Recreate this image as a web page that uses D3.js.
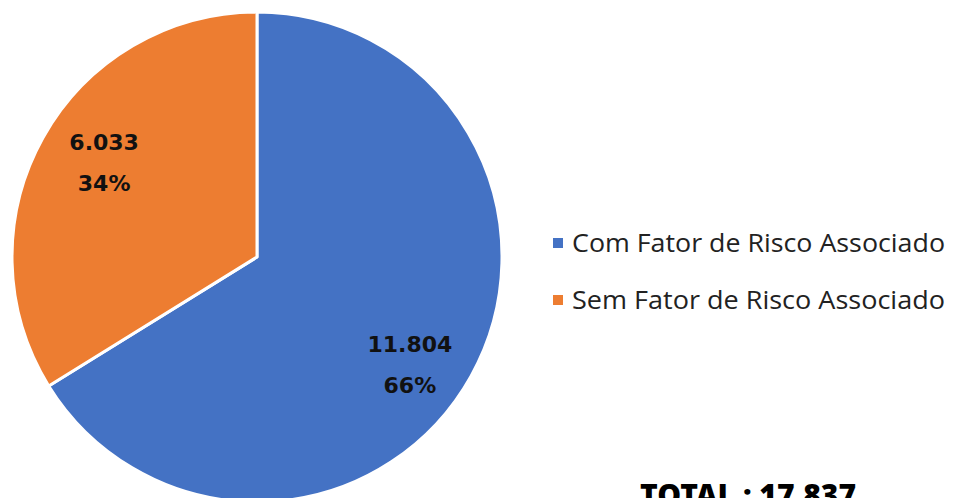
<!DOCTYPE html>
<html lang="pt">
<head>
<meta charset="UTF-8">
<title>Fator de Risco</title>
<script src="https://d3js.org/d3.v7.min.js"></script>
<style>
    body { margin: 0; background: #fff; }
    svg { display: block; }
</style>
</head>
<body>
<svg id="chart" width="955" height="498"></svg>
<script>
    // data
    const categories = ["Com Fator de Risco Associado", "Sem Fator de Risco Associado"];
    const values = [11804, 6033];
    const valueLabels = ["11.804", "6.033"];
    const percentLabels = ["66%", "34%"];
    const totalLabel = "TOTAL : 17.837";

    const svg = d3.select("#chart");

    const color = d3.scaleOrdinal()
        .domain(categories)
        .range(["#4472C4", "#ED7D31"]);

    const cx = 257, cy = 257, radius = 245;

    const pie = d3.pie().sort(null).value(d => d.value);
    const arcs = pie(categories.map((c, i) => ({name: c, value: values[i], i: i})));

    const arc = d3.arc().innerRadius(0).outerRadius(radius);
    const labelArc = d3.arc().innerRadius(175).outerRadius(175);
    // excel "best fit" shifts the label blocks a little
    const nudge = [23, -9];

    const g = svg.append("g").attr("transform", `translate(${cx},${cy})`);

    g.selectAll("path")
        .data(arcs)
        .join("path")
        .attr("d", arc)
        .attr("fill", d => color(d.data.name))
        .attr("stroke", "#fff")
        .attr("stroke-width", 3)
        .attr("stroke-linejoin", "round");

    // slice labels
    const lbl = g.selectAll("text.lbl")
        .data(arcs)
        .join("text")
        .attr("class", "lbl")
        .attr("transform", d => {
            const [x, y] = labelArc.centroid(d);
            return `translate(${x},${y + nudge[d.data.i]})`;
        })
        .attr("text-anchor", "middle")
        .style("font-family", "'DejaVu Sans', sans-serif")
        .style("font-weight", "bold")
        .style("font-size", "22px")
        .attr("fill", "#111");

    lbl.append("tspan").attr("x", 0).attr("y", -21).attr("dy", "0.36em").text(d => valueLabels[d.data.i]);
    lbl.append("tspan").attr("x", 0).attr("y", 20).attr("dy", "0.36em").text(d => percentLabels[d.data.i]);

    // legend
    const legend = svg.append("g").attr("transform", "translate(553,243)");
    const item = legend.selectAll("g")
        .data(categories)
        .join("g")
        .attr("transform", (d, i) => `translate(0,${i * 57})`);
    item.append("rect")
        .attr("x", 0).attr("y", -5)
        .attr("width", 10).attr("height", 10)
        .attr("fill", d => color(d));
    item.append("text")
        .attr("x", 19).attr("y", 0)
        .attr("dy", "0.36em")
        .attr("textLength", 373)
        .attr("lengthAdjust", "spacingAndGlyphs")
        .style("font-family", "'Open Sans', sans-serif")
        .style("font-size", "26px")
        .attr("fill", "#222")
        .text(d => d);

    // total
    svg.append("text")
        .attr("x", 640).attr("y", 506)
        .attr("textLength", 216)
        .attr("lengthAdjust", "spacingAndGlyphs")
        .style("font-family", "'Noto Sans', sans-serif")
        .style("font-weight", "900")
        .style("font-size", "30px")
        .attr("fill", "#000")
        .text(totalLabel);
</script>
</body>
</html>
